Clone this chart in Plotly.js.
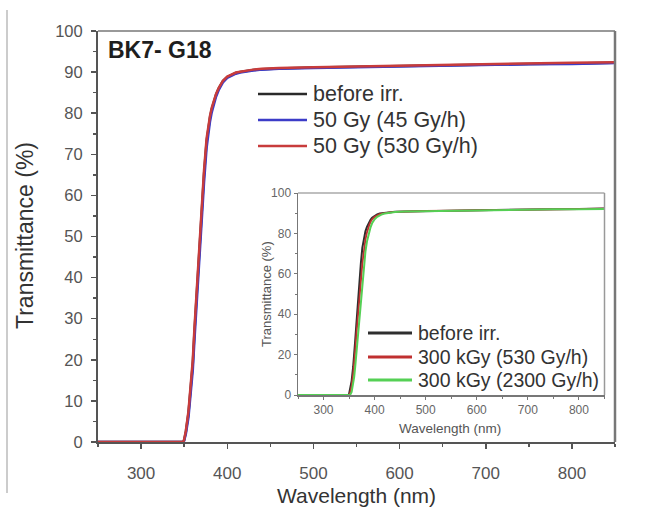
<!DOCTYPE html>
<html>
<head>
<meta charset="utf-8">
<script src="https://cdn.plot.ly/plotly-3.0.1.min.js"></script>
<style>html,body{margin:0;padding:0;background:#fff;}#chart{width:654px;height:514px;}</style>
</head>
<body>
<div id="chart"></div>
<script>
// ---- data ----
const wavelength = [250,300,345,349,350,352,355,358,360,362,364,366,368,370,373,376,378,380,382,385,387,390,392,395,400,405,410,415,420,430,440,460,500,550,600,650,700,750,800,850];
const beforeIrr  = [0,0,0,0,0.5,2.5,7,14,19,27,34,42,49,55,65,73,76.5,79,81,83.2,84.5,86,86.8,87.8,88.8,89.4,89.8,90.0,90.2,90.5,90.7,90.9,91.1,91.3,91.5,91.7,91.9,92.0,92.1,92.3];
const gy50_45    = [0,0,0,0,0.3,2,6,12.5,17.5,25,32,40,47,53,63,71.5,75.2,78,80.2,82.6,84,85.6,86.5,87.5,88.6,89.2,89.6,89.9,90.1,90.4,90.6,90.8,91.0,91.2,91.4,91.6,91.8,91.9,92.0,92.2];
const gy50_530   = [0,0,0,0,0.6,2.8,7.5,14.8,20,28,35.2,43,50,56,66,73.8,77,79.4,81.3,83.4,84.7,86.1,86.9,87.9,88.9,89.5,89.9,90.1,90.3,90.6,90.8,91.0,91.2,91.4,91.6,91.8,92.0,92.1,92.3,92.4];
const kgy300_530 = [0,0,0,0,0,1,4.5,10.5,15,22,29,36,42,47.5,56,65,69.5,73.5,77,80.5,82.5,84.5,85.7,87,88.2,89,89.5,89.8,90.1,90.4,90.7,90.9,91.1,91.3,91.5,91.7,91.9,92.0,92.1,92.2];
const kgy300_2300= [0,0,0,0,0,0,1.5,5,9,14,20,27,33,39,48,57,62,67,71,76,78.5,81.5,83,85,87,88.2,89,89.5,89.9,90.3,90.6,90.8,91.0,91.2,91.4,91.6,91.8,91.9,92.0,92.1];

const mainNames  = ["before irr.", "50 Gy (45 Gy/h)", "50 Gy (530 Gy/h)"];
const insetNames = ["before irr.", "300 kGy (530 Gy/h)", "300 kGy (2300 Gy/h)"];
const xTicks = [300,400,500,600,700,800];
const mainYTicks = [0,10,20,30,40,50,60,70,80,90,100];
const insetYTicks = [0,20,40,60,80,100];

// ---- styles ----
const W = 654, H = 514;
const FONT = "Arial, 'Liberation Sans', sans-serif";
const mainColors  = ["#2a2a2a", "#3c3cc8", "#c83c3c"];
const insetColors = ["#2e2e2e", "#c03030", "#55d055"];
const px = x => x / W;
const py = y => 1 - y / H;

const traces = [
  {x: wavelength, y: beforeIrr, name: mainNames[0], xaxis:'x', yaxis:'y', mode:'lines', line:{color:mainColors[0], width:2.5}, cliponaxis:false},
  {x: wavelength, y: gy50_45,   name: mainNames[1], xaxis:'x', yaxis:'y', mode:'lines', line:{color:mainColors[1], width:2.5}, cliponaxis:false},
  {x: wavelength, y: gy50_530,  name: mainNames[2], xaxis:'x', yaxis:'y', mode:'lines', line:{color:mainColors[2], width:2.5}, cliponaxis:false},
  {x: wavelength, y: beforeIrr,   name: insetNames[0], xaxis:'x2', yaxis:'y2', mode:'lines', line:{color:insetColors[0], width:2}},
  {x: wavelength, y: kgy300_530,  name: insetNames[1], xaxis:'x2', yaxis:'y2', mode:'lines', line:{color:insetColors[1], width:1.8}},
  {x: wavelength, y: kgy300_2300, name: insetNames[2], xaxis:'x2', yaxis:'y2', mode:'lines', line:{color:insetColors[2], width:2}}
];

const axisCommon = {showgrid:false, zeroline:false, showline:true, ticks:'outside', fixedrange:true, layer:'below traces'};

const shapes = [
  // image border line on the left
  {type:'line', xref:'paper', yref:'paper', x0:px(7), x1:px(7), y0:py(10), y1:py(493), line:{color:'#cccccc', width:2}},
  // main frame top / right
  {type:'line', xref:'x domain', yref:'y domain', x0:0, x1:1, y0:1, y1:1, line:{color:'#999999', width:2}},
  {type:'line', xref:'x domain', yref:'y domain', x0:1, x1:1, y0:0, y1:1, line:{color:'#777777', width:2.5}},
  // inset frame top / right
  {type:'line', xref:'x2 domain', yref:'y2 domain', x0:0, x1:1, y0:1, y1:1, line:{color:'#aaaaaa', width:1.5}},
  {type:'line', xref:'x2 domain', yref:'y2 domain', x0:1, x1:1, y0:0, y1:1, line:{color:'#999999', width:1.5}}
];
const annotations = [
  {text:'<b>BK7- G18</b>', xref:'paper', yref:'paper', x:px(106), y:py(50), xanchor:'left', yanchor:'middle', showarrow:false, font:{family:FONT, size:23, color:'#1e1e1e'}},
  {text:'Wavelength (nm)', xref:'paper', yref:'paper', x:px(356), y:py(495), xanchor:'center', yanchor:'middle', showarrow:false, font:{family:FONT, size:21, color:'#333'}},
  {text:'Transmittance (%)', xref:'paper', yref:'paper', x:px(25), y:py(236), xanchor:'center', yanchor:'middle', textangle:-90, showarrow:false, font:{family:FONT, size:23, color:'#333'}},
  {text:'Wavelength (nm)', xref:'paper', yref:'paper', x:px(450), y:py(428), xanchor:'center', yanchor:'middle', showarrow:false, font:{family:FONT, size:13.5, color:'#555'}},
  {text:'Transmittance (%)', xref:'paper', yref:'paper', x:px(266), y:py(294), xanchor:'center', yanchor:'middle', textangle:-90, showarrow:false, font:{family:FONT, size:13, color:'#555'}}
];
// manual legends (line sample + label)
const mainLegY = [94, 120, 146];
mainNames.forEach((n,i) => {
  shapes.push({type:'line', xref:'paper', yref:'paper', x0:px(258), x1:px(307), y0:py(mainLegY[i]), y1:py(mainLegY[i]), line:{color:mainColors[i], width:2.5}});
  annotations.push({text:n, xref:'paper', yref:'paper', x:px(311), y:py(mainLegY[i]), xanchor:'left', yanchor:'middle', showarrow:false, font:{family:FONT, size:21.5, color:'#333'}});
});
const insetLegY = [333, 357, 380];
insetNames.forEach((n,i) => {
  shapes.push({type:'line', xref:'paper', yref:'paper', x0:px(368), x1:px(412), y0:py(insetLegY[i]), y1:py(insetLegY[i]), line:{color:insetColors[i], width:3}});
  annotations.push({text:n, xref:'paper', yref:'paper', x:px(416), y:py(insetLegY[i]), xanchor:'left', yanchor:'middle', showarrow:false, font:{family:FONT, size:19.5, color:'#333'}});
});

const layout = {
  width: W, height: H,
  margin: {l:0, r:0, t:0, b:0},
  paper_bgcolor: '#fff', plot_bgcolor: 'rgba(0,0,0,0)',
  showlegend: false,
  font: {family: FONT},
  xaxis: Object.assign({}, axisCommon, {
    domain:[px(98), px(615)], anchor:'y', range:[250,850], tickmode:'array', tickvals:xTicks,
    linecolor:'#555', linewidth:2, tickcolor:'#555', ticklen:5, tickwidth:1.5,
    tickfont:{size:17, color:'#555'}, ticklabelstandoff:10,
    minor:{tickmode:'linear', tick0:250, dtick:50, ticks:'outside', ticklen:3, tickcolor:'#555', tickwidth:1.5}
  }),
  yaxis: Object.assign({}, axisCommon, {
    domain:[py(442), py(31)], anchor:'x', range:[0,100], tickmode:'array', tickvals:mainYTicks,
    linecolor:'#555', linewidth:2, tickcolor:'#555', ticklen:5, tickwidth:1.5,
    tickfont:{size:16.5, color:'#555'}, ticklabelstandoff:5,
    minor:{tickmode:'linear', tick0:0, dtick:5, ticks:'outside', ticklen:3, tickcolor:'#555', tickwidth:1.5}
  }),
  xaxis2: Object.assign({}, axisCommon, {
    domain:[px(298), px(604.5)], anchor:'y2', range:[250,850], tickmode:'array', tickvals:xTicks,
    linecolor:'#777', linewidth:1.5, tickcolor:'#777', ticklen:3, tickwidth:1,
    tickfont:{size:12, color:'#666'},
    minor:{tickmode:'linear', tick0:250, dtick:50, ticks:'outside', ticklen:2, tickcolor:'#777'}
  }),
  yaxis2: Object.assign({}, axisCommon, {
    domain:[py(395), py(193)], anchor:'x2', range:[0,100], tickmode:'array', tickvals:insetYTicks,
    linecolor:'#777', linewidth:1.5, tickcolor:'#777', ticklen:3, tickwidth:1,
    tickfont:{size:12, color:'#666'},
    minor:{tickmode:'linear', tick0:0, dtick:10, ticks:'outside', ticklen:2, tickcolor:'#777'}
  }),
  shapes: shapes,
  annotations: annotations
};

Plotly.newPlot('chart', traces, layout, {staticPlot:true, displayModeBar:false});
</script>
</body>
</html>
